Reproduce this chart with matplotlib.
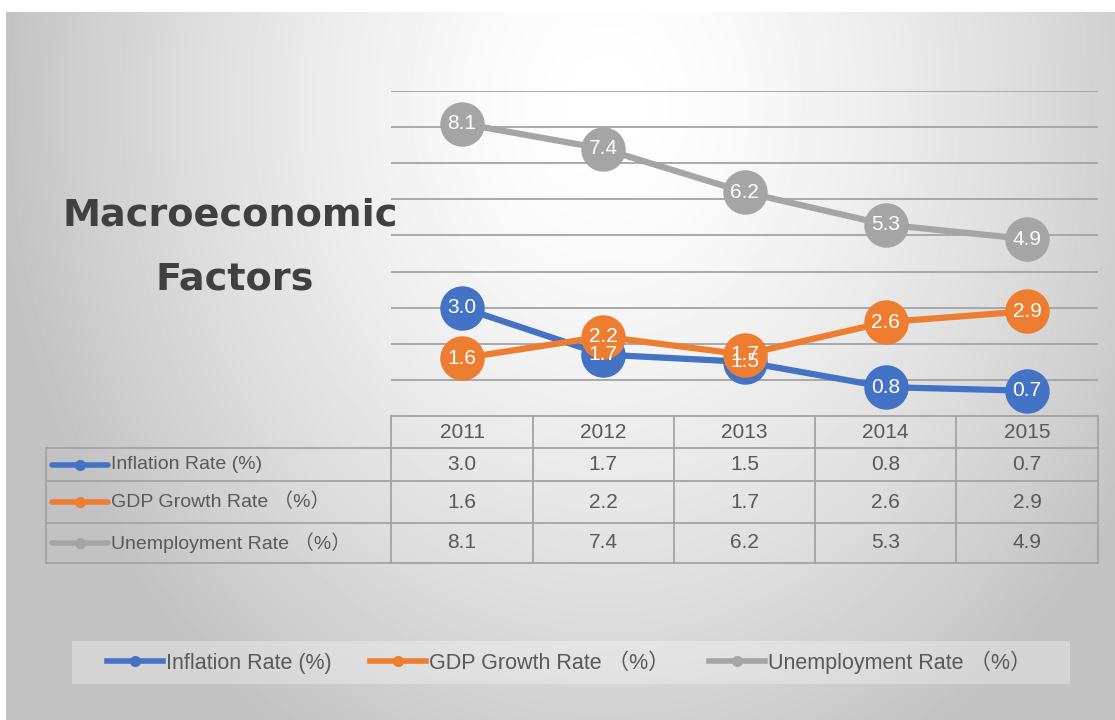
import numpy as np
import matplotlib.pyplot as plt
from matplotlib.lines import Line2D
from matplotlib.patches import Rectangle

# data
years = ['2011', '2012', '2013', '2014', '2015']
inflation = [3.0, 1.7, 1.5, 0.8, 0.7]
gdp = [1.6, 2.2, 1.7, 2.6, 2.9]
unemployment = [8.1, 7.4, 6.2, 5.3, 4.9]
series_names = ['Inflation Rate (%)', 'GDP Growth Rate （%）', 'Unemployment Rate （%）']
colors = ['#4472C4', '#ED7D31', '#A5A5A5']
series = [inflation, gdp, unemployment]

W, H = 1115, 720
txt_font = ['Liberation Sans', 'Noto Sans CJK SC', 'DejaVu Sans']

fig = plt.figure(figsize=(W / 100, H / 100), dpi=100)


def box(l, t, r, b):
    return [l / W, 1 - b / H, (r - l) / W, (b - t) / H]


# gradient background
bg = fig.add_axes(box(6, 12, W, H))
yy, xx = np.mgrid[0:H - 12, 0:W - 6]
d = np.sqrt(((xx - 600) / 560.0) ** 2 + ((yy - 90) / 680.0) ** 2)
shade = np.clip(1 - 0.21 * d ** 1.5, 0.76, 1)
bg.imshow(shade, cmap='gray', vmin=0, vmax=1, aspect='auto', interpolation='bilinear')
bg.axis('off')

# line chart
ax = fig.add_axes(box(391.4, 91, 1097.6, 416))
ax.patch.set_visible(False)
x = np.arange(len(years))
for i, (vals, c) in enumerate(zip(series, colors)):
    ax.plot(x, vals, color=c, lw=4.5, marker='o', ms=31, zorder=3 + i, clip_on=False)
    for xi, v in zip(x, vals):
        ax.text(xi, v, f'{v:.1f}', ha='center', va='center', color='white',
                fontsize=15, family=txt_font, zorder=10)
ax.set_xlim(-0.5, 4.5)
ax.set_ylim(0, 9)
ax.set_yticks(range(1, 10))
ax.set_xticks([])
ax.grid(axis='y', color='#a3a3a3', lw=1.3)
ax.set_axisbelow(True)
ax.tick_params(left=False, labelleft=False)
for s in ax.spines.values():
    s.set_visible(False)

# data table under the chart, same x scale
step = (1097.6 - 391.4) / 5


def px2x(px):
    return (px - 391.4) / step - 0.5


tax = fig.add_axes(box(46, 416, 1097.6, 563))
tax.patch.set_visible(False)
tax.set_xlim(px2x(46), 4.5)
tax.set_ylim(563, 416)
tax.axis('off')
rows = [416, 448, 481, 523, 563]
lc = '#a3a3a3'
left = px2x(46)
tax.plot([-0.5, 4.5], [rows[0], rows[0]], color=lc, lw=1.3, clip_on=False)
for r in rows[1:]:
    tax.plot([left, 4.5], [r, r], color=lc, lw=1.3, clip_on=False)
tax.plot([left, left], [rows[1], rows[-1]], color=lc, lw=1.3, clip_on=False)
for b in np.arange(-0.5, 5, 1):
    tax.plot([b, b], [rows[0], rows[-1]], color=lc, lw=1.3, clip_on=False)

for xi, yr in zip(x, years):
    tax.text(xi, (rows[0] + rows[1]) / 2, yr, ha='center', va='center',
             fontsize=15, color='#595959', family=txt_font)
for j, (name, vals, c) in enumerate(zip(series_names, series, colors)):
    yc = (rows[j + 1] + rows[j + 2]) / 2
    tax.plot([px2x(52), px2x(108)], [yc, yc], color=c, lw=4, solid_capstyle='round')
    tax.plot([px2x(80)], [yc], 'o', color=c, ms=7)
    tax.text(px2x(111), yc, name, ha='left', va='center', fontsize=14,
             color='#595959', family=txt_font)
    for xi, v in zip(x, vals):
        tax.text(xi, yc, f'{v:.1f}', ha='center', va='center', fontsize=15,
                 color='#595959', family=txt_font)

# title
fig.text(230 / W, 1 - 215 / H, 'Macroeconomic', ha='center', va='center',
         fontsize=27.5, fontweight='bold', color='#404040', family='DejaVu Sans')
fig.text(235 / W, 1 - 280 / H, 'Factors', ha='center', va='center',
         fontsize=27.5, fontweight='bold', color='#404040', family='DejaVu Sans')

# legend
fig.patches.append(Rectangle((72 / W, 1 - 684 / H), (1070 - 72) / W, 43 / H,
                             transform=fig.transFigure, facecolor='white',
                             alpha=0.3, edgecolor='none', zorder=1))
handles = [Line2D([], [], color=c, lw=4, marker='o', ms=7) for c in colors]
leg = fig.legend(handles, series_names, loc='center', ncol=3,
                 bbox_to_anchor=(569 / W, 1 - 662 / H), frameon=False,
                 prop={'family': txt_font, 'size': 15.5}, handlelength=2.6,
                 handletextpad=0.15, columnspacing=1.8)
for t in leg.get_texts():
    t.set_color('#595959')

fig.savefig('out.png', dpi=100)
